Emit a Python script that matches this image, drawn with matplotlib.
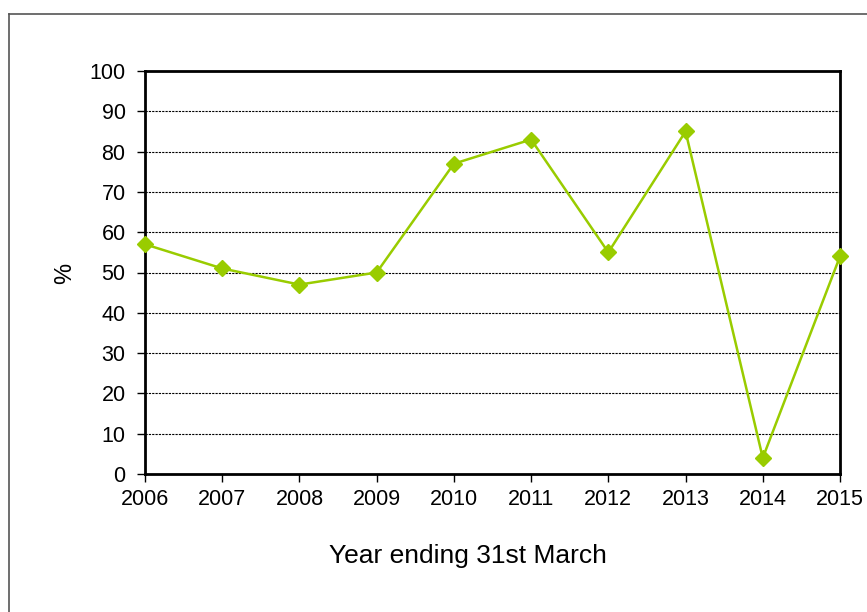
import matplotlib
matplotlib.use("Agg")
import matplotlib.pyplot as plt
from matplotlib.lines import Line2D

years = [2006, 2007, 2008, 2009, 2010, 2011, 2012, 2013, 2014, 2015]
values = [57, 51, 47, 50, 77, 83, 55, 85, 4, 54]
yticks = [0, 10, 20, 30, 40, 50, 60, 70, 80, 90, 100]
xlabel = "Year ending 31st March"
ylabel = "%"

plt.rcParams['font.family'] = ['Liberation Sans', 'DejaVu Sans']

W, H = 867, 612
fig = plt.figure(figsize=(W / 100, H / 100), dpi=100)
ax = fig.add_axes([145 / W, 1 - 474 / H, (840 - 145) / W, (474 - 71) / H])

ax.plot(years, values, color='#99CC00', lw=1.8, marker='D', markersize=8.5,
        markerfacecolor='#99CC00', markeredgecolor='#99CC00', zorder=3, clip_on=False)

ax.set_xlim(years[0], years[-1])
ax.set_ylim(0, 100)
ax.set_xticks(years)
ax.set_yticks(yticks)
ax.tick_params(axis='both', labelsize=15.5, direction='out', length=6, width=1, color='black')
ax.tick_params(axis='x', pad=5)
ax.tick_params(axis='y', pad=8)

for y in yticks[1:-1]:
    ax.axhline(y, color='black', lw=0.8, linestyle=(0, (2, 1)), zorder=1)

for s in ax.spines.values():
    s.set_linewidth(2)
    s.set_color('black')

ax.set_xlabel(xlabel, fontsize=19)
ax.xaxis.set_label_coords(0.465, (474 - 556) / 403)
ax.xaxis.label.set_va('center')
ax.set_ylabel(ylabel, fontsize=17)
ax.yaxis.set_label_coords((65 - 145) / 695, (474 - 273) / 403)
ax.yaxis.label.set_va('center')

# outer frame (left and top edges)
fig.add_artist(Line2D([8.5 / W, 8.5 / W], [0, 1 - 14 / H], transform=fig.transFigure,
                      color='#555555', lw=1.2))
fig.add_artist(Line2D([8.5 / W, 1], [1 - 14 / H, 1 - 14 / H], transform=fig.transFigure,
                      color='#555555', lw=1.2))

fig.savefig('out.png', dpi=100)
